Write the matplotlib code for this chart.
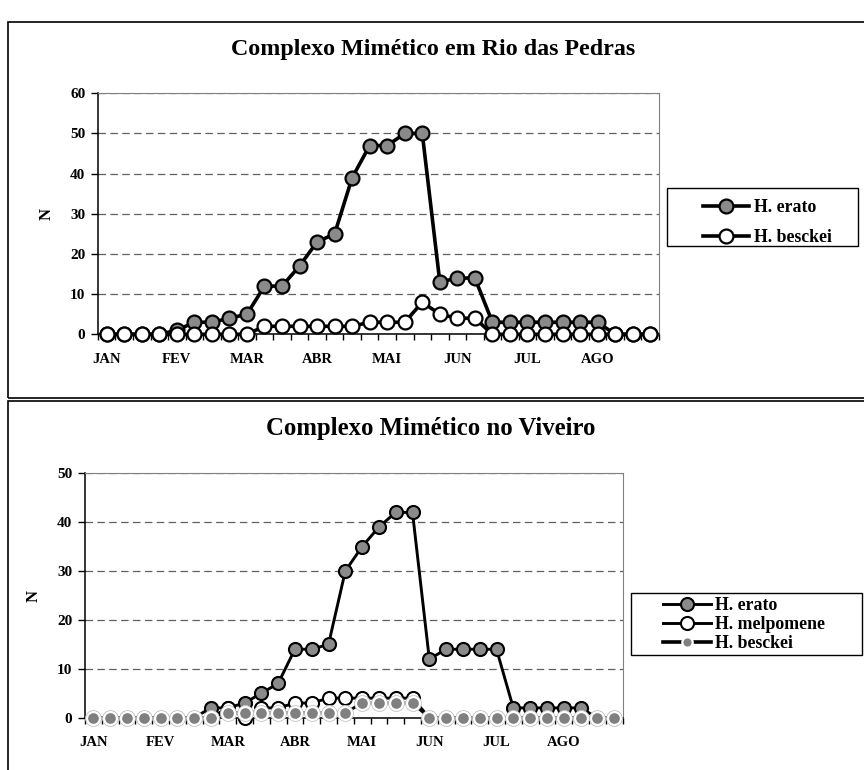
import numpy as np
import matplotlib.pyplot as plt
from matplotlib.lines import Line2D
from matplotlib.patches import Rectangle

# dados semanais (4 amostras por mes)
meses = ['JAN', 'FEV', 'MAR', 'ABR', 'MAI', 'JUN', 'JUL', 'AGO']
semanas = np.arange(32)

rio_erato = [0, 0, 0, 0, 1, 3, 3, 4, 5, 12, 12, 17, 23, 25, 39, 47,
             47, 50, 50, 13, 14, 14, 3, 3, 3, 3, 3, 3, 3, 0, 0, 0]
rio_besckei = [0, 0, 0, 0, 0, 0, 0, 0, 0, 2, 2, 2, 2, 2, 2, 3,
               3, 3, 8, 5, 4, 4, 0, 0, 0, 0, 0, 0, 0, 0, 0, 0]

viv_erato = [0, 0, 0, 0, 0, 0, 0, 2, 2, 3, 5, 7, 14, 14, 15, 30,
             35, 39, 42, 42, 12, 14, 14, 14, 14, 2, 2, 2, 2, 2, 0, 0]
viv_melpomene = [0, 0, 0, 0, 0, 0, 0, 0, 2, 0, 2, 2, 3, 3, 4, 4,
                 4, 4, 4, 4, 0, 0, 0, 0, 0, 0, 0, 0, 0, 0, 0, 0]
viv_besckei = [0, 0, 0, 0, 0, 0, 0, 0, 1, 1, 1, 1, 1, 1, 1, 1,
               3, 3, 3, 3, 0, 0, 0, 0, 0, 0, 0, 0, 0, 0, 0, 0]

plt.rcParams['font.family'] = ['Liberation Serif', 'DejaVu Serif']
plt.rcParams['font.weight'] = 'bold'

W, H = 864, 770
fig = plt.figure(figsize=(W / 100, H / 100), dpi=100)
CINZA = '#8a8a8a'


def caixa(x0, y0, x1, y1, **kw):
    # coordenadas em pixels, a partir do topo
    r = Rectangle((x0 / W, 1 - y1 / H), (x1 - x0) / W, (y1 - y0) / H,
                  transform=fig.transFigure, fill=False, edgecolor='black', **kw)
    fig.patches.append(r)


def eixos(x0, y0, x1, y1):
    return fig.add_axes([x0 / W, 1 - y1 / H, (x1 - x0) / W, (y1 - y0) / H])


def estilo(ax, ymax, xlab):
    ax.set_xlim(-0.5, 31.5)
    ax.set_ylim(0, ymax)
    ax.set_yticks(range(0, ymax + 1, 10))
    ax.set_xticks(semanas[::4])
    ax.set_xticklabels(meses)
    ax.set_xticks(np.arange(-0.5, 32, 1), minor=True)
    ax.tick_params(axis='x', which='major', length=0, pad=13.5, labelsize=10.5)
    ax.tick_params(axis='x', which='minor', length=4, width=1, direction='out')
    ax.tick_params(axis='y', length=5, width=1, labelsize=11, pad=4)
    ax.yaxis.grid(True, linestyle=(0, (6, 3.5)), color='#606060', linewidth=0.9)
    ax.set_axisbelow(True)
    for s in ['top', 'right']:
        ax.spines[s].set_color('#808080')
    for s in ['left', 'bottom']:
        ax.spines[s].set_linewidth(1.1)
    ax.set_ylabel('N', fontsize=12, fontweight='bold')
    ax.yaxis.set_label_coords(xlab, 0.5)


# ---------- Rio das Pedras ----------
caixa(8, 22, 880, 398, linewidth=1.2)
fig.text(433 / W, 1 - 50 / H, 'Complexo Mimético em Rio das Pedras',
         ha='center', va='center', fontsize=17.3, fontweight='bold')
ax1 = eixos(97.9, 93.3, 659, 334.3)
estilo(ax1, 60, -0.077)
h1, = ax1.plot(semanas, rio_erato, '-o', color='black', lw=2.6, ms=10,
               mfc=CINZA, mec='black', mew=1.6, clip_on=False, zorder=3)
h2, = ax1.plot(semanas, rio_besckei, '-o', color='black', lw=2.6, ms=10,
               mfc='white', mec='black', mew=1.6, clip_on=False, zorder=4)
caixa(667, 188, 858, 246, linewidth=1.0)
fig.legend([h1, h2], ['H. erato', 'H. besckei'], loc='upper left',
           bbox_to_anchor=(703 / W, 1 - 199 / H), frameon=False, borderpad=0,
           borderaxespad=0, handlelength=2.6, handletextpad=0.25,
           labelspacing=0.75, prop=dict(weight='bold', size=12.8))

# ---------- Viveiro ----------
caixa(8, 401, 880, 790, linewidth=1.2)
fig.text(431 / W, 1 - 428 / H, 'Complexo Mimético no Viveiro',
         ha='center', va='center', fontsize=17.8, fontweight='bold')
ax2 = eixos(84.9, 473.3, 622.5, 717.7)
estilo(ax2, 50, -0.08)
g1, = ax2.plot(semanas, viv_erato, '-o', color='black', lw=2.1, ms=9.4,
               mfc=CINZA, mec='black', mew=1.5, clip_on=False, zorder=3)
g2, = ax2.plot(semanas, viv_melpomene, '-o', color='black', lw=2.1, ms=9.4,
               mfc='white', mec='black', mew=1.5, clip_on=False, zorder=4)
ax2.plot(semanas, viv_besckei, '-o', color='black', lw=2.1, ms=9.6,
         mfc='#808080', mec='white', mew=1.9, clip_on=False, zorder=5)
ax2.plot(semanas, viv_besckei, 'o', ls='none', ms=11.4, mfc='none',
         mec='#c4c4c4', mew=0.6, clip_on=False, zorder=5.1)
g3 = Line2D([], [], color='black', lw=2.6, marker='o', ms=7.5,
            mfc='#808080', mec='white', mew=1.6)
caixa(631, 593, 862, 655, linewidth=1.0)
fig.legend([g1, g2, g3], ['H. erato', 'H. melpomene', 'H. besckei'],
           loc='upper left', bbox_to_anchor=(663 / W, 1 - 597 / H),
           frameon=False, borderpad=0, borderaxespad=0, handlelength=2.7,
           handletextpad=0.2, labelspacing=0.12,
           prop=dict(weight='bold', size=12.8))

fig.savefig('out.png', dpi=100)
